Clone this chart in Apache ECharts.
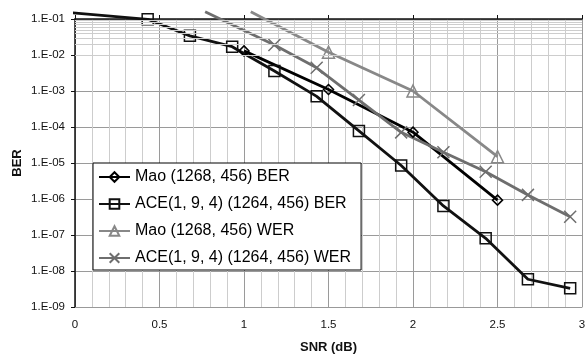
<!DOCTYPE html>
<html>
<head>
<meta charset="utf-8">
<script src="https://cdn.jsdelivr.net/npm/echarts@6/dist/echarts.min.js"></script>
<style>
  html, body { margin: 0; padding: 0; background: #fff; }
  #chart { width: 587px; height: 355px; }
</style>
</head>
<body>
<div id="chart"></div>
<script>
// first point of some series sits above the plot, where the line enters the picture
const maoBerX = [1.0, 1.5, 2.0, 2.5];
const maoBer = [1.3e-2, 1.1e-3, 7.2e-5, 9.3e-7];

const aceBerX = [-0.05, 0.43, 0.68, 0.93, 1.18, 1.43, 1.68, 1.93, 2.18, 2.43, 2.68, 2.93];
const aceBer = [1.53e-1, 9.8e-2, 3.4e-2, 1.7e-2, 3.6e-3, 7.1e-4, 7.8e-5, 8.5e-6, 6.4e-7, 8.1e-8, 5.9e-9, 3.3e-9];

const maoWerX = [1.04, 1.5, 2.0, 2.5];
const maoWer = [1.6e-1, 1.2e-2, 1.0e-3, 1.5e-5];

const aceWerX = [0.77, 1.18, 1.43, 1.68, 1.93, 2.18, 2.43, 2.68, 2.93];
const aceWer = [1.6e-1, 1.9e-2, 4.4e-3, 5.6e-4, 7.1e-5, 2.0e-5, 5.7e-6, 1.3e-6, 3.2e-7];

const seriesNames = [
  'Mao (1268, 456) BER',
  'ACE(1, 9, 4) (1264, 456) BER',
  'Mao (1268, 456) WER',
  'ACE(1, 9, 4) (1264, 456) WER'
];

// log minor grid: 2..9 within every decade
const decades = [1e-9, 1e-8, 1e-7, 1e-6, 1e-5, 1e-4, 1e-3, 1e-2];
const minorSteps = [2, 3, 4, 5, 6, 7, 8, 9];

const FONT = 'Liberation Sans, Arial, sans-serif';
const CROSS = 'path://M0,0L10,10M10,0L0,10';

function pts(xs, ys, hideFirst) {
  return xs.map((x, i) => {
    if (hideFirst && i === 0) return { value: [x, ys[i]], symbol: 'none' };
    return [x, ys[i]];
  });
}

function lineSeries(name, data, color, symbol, size) {
  return {
    name,
    type: 'line',
    data,
    clip: false,
    z: 3,
    symbol,
    symbolSize: size,
    lineStyle: { color, width: 2.8 },
    itemStyle: { color: 'rgba(0,0,0,0)', borderColor: color, borderWidth: 1.5 },
    emphasis: { disabled: true }
  };
}

const minorLines = [];
decades.forEach(d => minorSteps.forEach(m => minorLines.push({ yAxis: d * m })));

const chart = echarts.init(document.getElementById('chart'), null, { renderer: 'canvas' });

chart.setOption({
  animation: false,
  backgroundColor: '#fff',
  textStyle: { fontFamily: FONT },
  grid: { left: 75, right: 5, top: 19, bottom: 48, outerBoundsMode: 'none', containLabel: false },
  legend: {
    orient: 'vertical',
    left: 93,
    top: 163,
    padding: [6, 10, 4, 5],
    itemGap: 11,
    itemWidth: 31,
    itemHeight: 12,
    backgroundColor: '#fff',
    borderColor: '#000',
    borderWidth: 1,
    textStyle: { fontFamily: FONT, fontSize: 16, color: '#000', lineHeight: 16 },
    data: seriesNames
  },
  xAxis: [
    {
      type: 'value',
      min: 0,
      max: 3,
      interval: 0.5,
      z: 1,
      axisLine: { onZero: false, lineStyle: { color: '#999', width: 1 } },
      axisTick: { show: false },
      axisLabel: { fontFamily: FONT, fontSize: 11.5, color: '#111', margin: 12 },
      splitLine: { show: true, lineStyle: { color: '#9a9a9a', width: 1 } },
      minorTick: { show: false, splitNumber: 5 },
      minorSplitLine: { show: true, lineStyle: { color: '#cdcdcd', width: 1 } },
      name: 'SNR (dB)',
      nameLocation: 'middle',
      nameGap: 34,
      nameMoveOverlap: false,
      nameTextStyle: { fontFamily: FONT, fontSize: 13, fontWeight: 'bold', color: '#111' }
    },
    {
      type: 'value',
      position: 'top',
      min: 0,
      max: 3,
      interval: 0.5,
      z: 1,
      axisLine: { onZero: false, lineStyle: { color: '#111', width: 1.5 } },
      axisTick: { show: true, length: 4, lineStyle: { color: '#111' } },
      axisLabel: { show: false },
      splitLine: { show: false }
    }
  ],
  yAxis: {
    type: 'log',
    logBase: 10,
    min: 1e-9,
    max: 1e-1,
    interval: 1,
    z: 1,
    axisLine: { show: true, onZero: false, lineStyle: { color: '#111', width: 1.5 } },
    axisTick: { show: true, length: 4, lineStyle: { color: '#111' } },
    axisLabel: {
      fontFamily: FONT,
      fontSize: 11.5,
      color: '#111',
      margin: 10,
      formatter: v => {
        const e = Math.round(Math.log10(v));
        return '1.E-' + String(-e).padStart(2, '0');
      }
    },
    splitLine: { show: true, lineStyle: { color: '#9a9a9a', width: 1 } },
    name: 'BER',
    nameLocation: 'middle',
    nameGap: 51,
    nameMoveOverlap: false,
    nameTextStyle: { fontFamily: FONT, fontSize: 13, fontWeight: 'bold', color: '#111' }
  },
  series: [
    {
      name: 'minor-grid',
      type: 'line',
      data: [],
      z: 0,
      silent: true,
      markLine: {
        silent: true,
        symbol: 'none',
        label: { show: false },
        lineStyle: { color: '#cdcdcd', width: 1, type: 'solid' },
        emphasis: { disabled: true },
        data: minorLines
      }
    },
    lineSeries(seriesNames[0], pts(maoBerX, maoBer, false), '#000', 'diamond', 10),
    lineSeries(seriesNames[1], pts(aceBerX, aceBer, true), '#111', 'rect', 11),
    lineSeries(seriesNames[2], pts(maoWerX, maoWer, true), '#888', 'triangle', 12),
    lineSeries(seriesNames[3], pts(aceWerX, aceWer, true), '#6e6e6e', CROSS, 12)
  ]
});
</script>
</body>
</html>
